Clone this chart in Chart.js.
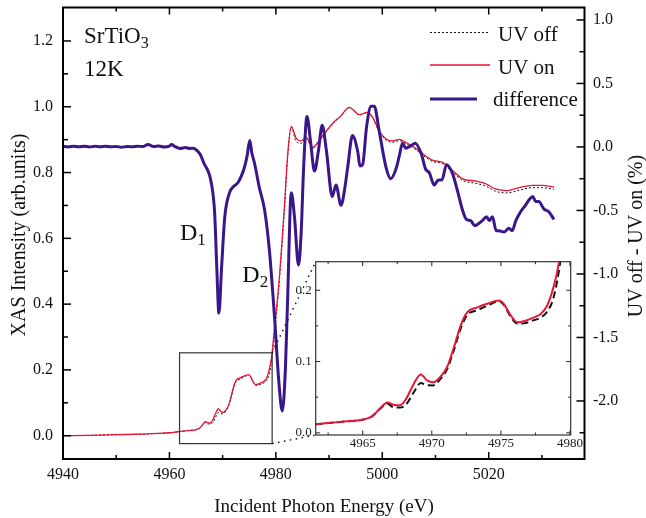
<!DOCTYPE html>
<html><head><meta charset="utf-8">
<script src="https://cdn.jsdelivr.net/npm/chart.js@4.4.1/dist/chart.umd.min.js"></script>
<style>
html,body{margin:0;padding:0;background:#fff;}
#wrap{position:relative;width:646px;height:518px;overflow:hidden;}
#main{position:absolute;left:0;top:0;}
#inset{position:absolute;left:270px;top:250px;}
</style></head><body>
<div id="wrap"><canvas id="main" width="646" height="518"></canvas><canvas id="inset" width="320" height="204"></canvas></div>
<script>
// ---------------- DATA ----------------
const xasEnergy = [4940,4945,4950,4955,4958,4960,4961.6,4963.4,4965.05,4965.7,4966.15,4966.8,4967.2,4967.7,4968.15,4968.7,4969.2,4969.65,4970.1,4970.6,4971.1,4971.6,4972.1,4972.55,4973.3,4974.0,4974.85,4975.2,4975.7,4976.2,4976.65,4977.4,4977.9,4978.35,4978.8,4979.2,4979.75,4980.5,4981.2,4981.7,4982.2,4982.9,4983.8,4984.75,4985.7,4986.9,4987.9,4988.8,4990.7,4992.25,4993.8,4995.7,4997.2,4998.2,4999.4,5000.7,5001.9,5003.2,5004.4,5006,5007.6,5009.4,5011.3,5013.2,5015.1,5017.6,5019.4,5021.3,5023.5,5025.7,5028.2,5030.1,5032.25];
const uvOn = [0.000,0.001,0.003,0.005,0.007,0.009,0.012,0.0154,0.0187,0.0234,0.032,0.0425,0.0395,0.0387,0.048,0.069,0.082,0.0737,0.071,0.078,0.092,0.120,0.151,0.169,0.176,0.181,0.1856,0.181,0.165,0.155,0.1566,0.162,0.167,0.1786,0.204,0.239,0.33,0.45,0.60,0.72,0.85,0.94,0.905,0.896,0.907,0.876,0.892,0.912,0.950,0.973,0.998,0.976,0.983,0.968,0.927,0.902,0.896,0.901,0.892,0.877,0.857,0.838,0.831,0.806,0.781,0.774,0.766,0.750,0.745,0.754,0.761,0.761,0.756];
const uvOff = [0.000,0.001,0.003,0.005,0.007,0.009,0.012,0.0154,0.0187,0.0234,0.032,0.041,0.036,0.0355,0.040,0.057,0.070,0.0667,0.0665,0.075,0.089,0.116,0.147,0.165,0.172,0.178,0.1845,0.180,0.163,0.153,0.1535,0.158,0.162,0.170,0.189,0.2275,0.31,0.44,0.59,0.71,0.845,0.938,0.895,0.889,0.903,0.874,0.890,0.910,0.948,0.972,0.997,0.975,0.982,0.966,0.925,0.899,0.892,0.897,0.888,0.873,0.853,0.834,0.827,0.801,0.776,0.767,0.759,0.743,0.738,0.746,0.754,0.754,0.749];
const diffEnergy = [4940,4941,4942,4943,4944,4945,4946,4947,4948,4949,4950,4951,4952,4953,4954,4955,4956,4957,4958,4959,4960,4960.4,4961,4962,4963,4963.8,4964.5,4965.1,4965.8,4966.4,4967.9,4968.5,4968.9,4969.3,4969.8,4970.4,4971.3,4972.1,4972.9,4973.5,4974.1,4974.6,4975.1,4975.5,4976.0,4976.9,4977.9,4978.8,4979.75,4980.6,4981.2,4981.8,4982.2,4982.9,4983.5,4984.25,4984.75,4985.2,4985.85,4986.5,4987.25,4988.0,4988.7,4989.5,4990.6,4991.3,4992.25,4992.9,4993.5,4994.4,4995.4,4995.8,4996.3,4997.05,4997.9,4998.5,4999.4,5000.7,5001.6,5002.6,5003.2,5003.8,5004.4,5005.4,5006.2,5007.3,5008.2,5008.8,5009.75,5010.55,5011.2,5012.06,5013.2,5014.1,5015.1,5015.8,5016.6,5017.4,5018.2,5018.8,5019.6,5020.1,5020.7,5021.4,5021.9,5022.9,5023.8,5024.4,5025.1,5026.0,5026.9,5027.7,5028.3,5028.8,5029.4,5030.4,5031.3,5032.25];
const diffValue = [0.005,0.0,0.006,0.002,0.006,0.0,0.005,0.002,0.006,0.001,0.004,-0.003,0.004,0.001,0.006,0.003,0.02,0.004,0.008,0.0,0.006,0.02,0.004,-0.012,-0.004,-0.012,-0.01,-0.025,-0.06,-0.12,-0.29,-0.52,-0.95,-1.31,-0.95,-0.55,-0.36,-0.31,-0.28,-0.23,-0.16,-0.07,0.05,-0.05,-0.13,-0.32,-0.50,-0.82,-1.34,-1.87,-2.08,-1.74,-1.21,-0.36,-0.55,-0.93,-0.68,-0.18,0.24,0.05,-0.19,-0.03,0.17,-0.03,-0.39,-0.30,-0.46,-0.34,-0.16,0.09,-0.04,-0.15,-0.14,0.16,0.32,0.32,0.13,-0.16,-0.25,-0.17,-0.07,0.03,-0.01,0.01,0.03,-0.05,-0.18,-0.20,-0.30,-0.26,-0.26,-0.14,-0.21,-0.34,-0.50,-0.57,-0.58,-0.62,-0.60,-0.58,-0.55,-0.58,-0.55,-0.66,-0.66,-0.67,-0.64,-0.66,-0.58,-0.51,-0.46,-0.41,-0.39,-0.43,-0.43,-0.49,-0.51,-0.57];
const xTicks = [4940,4960,4980,5000,5020];
const leftTicks = [0.0,0.2,0.4,0.6,0.8,1.0,1.2];
const rightTicks = [1.0,0.5,0.0,-0.5,-1.0,-1.5,-2.0];
const insetXTicks = [4965,4970,4975,4980];
const insetYTicks = [0.0,0.1,0.2];
const zoomX = [4961.9,4979.3];
const zoomY = [-0.024,0.252];
const seriesNames = ['UV off','UV on','difference'];

// ---------------- STYLE ----------------
const FONT = "'Liberation Serif','Times New Roman',serif";
const RED = 'rgb(230,22,55)';
const PURPLE = 'rgb(58,22,138)';
const INSET_LEFT = 270, INSET_TOP = 250;
Chart.defaults.font.family = FONT;

const pts = (xs, ys) => xs.map((e,i)=>({x:e,y:ys[i]}));

function seg(ctx,x1,y1,x2,y2){ctx.beginPath();ctx.moveTo(x1,y1);ctx.lineTo(x2,y2);ctx.stroke();}
function subText(ctx, main, s, x, yb, size, subSize, drop){
  ctx.font = size+'px '+FONT; ctx.fillText(main,x,yb);
  const w = ctx.measureText(main).width;
  ctx.font = subSize+'px '+FONT; ctx.fillText(s,x+w,yb+drop);
}

// ---------------- INSET ----------------
const insetDecor = {
  id:'insetDecor',
  beforeDraw(chart){
    const {ctx, chartArea:a} = chart;
    ctx.save(); ctx.fillStyle='#fff'; ctx.fillRect(a.left,a.top,a.right-a.left,a.bottom-a.top); ctx.restore();
  },
  afterDatasetsDraw(chart){
    const {ctx, chartArea:a, scales:{x,y}} = chart;
    ctx.save();
    ctx.strokeStyle='#222'; ctx.lineWidth=1;
    for(let i=0;i<=8;i++){
      const v=4960+i*2.5; if(v<4961.7||v>4980) continue;
      const px=x.getPixelForValue(v); const L=(i%2===0)?4.5:2.5;
      seg(ctx,px,a.bottom,px,a.bottom-L); seg(ctx,px,a.top,px,a.top+L);
    }
    for(let i=0;i<=4;i++){
      const v=i*0.05; const py=y.getPixelForValue(v); const L=(i%2===0)?4.5:2.5;
      seg(ctx,a.left,py,a.left+L,py); seg(ctx,a.right,py,a.right-L,py);
    }
    ctx.strokeStyle='#333'; ctx.lineWidth=1.2;
    ctx.strokeRect(a.left,a.top,a.right-a.left,a.bottom-a.top);
    ctx.restore();
  }
};

const insetChart = new Chart(document.getElementById('inset'), {
  type:'line',
  data:{datasets:[
    {data:pts(xasEnergy,uvOn), borderColor:RED, borderWidth:2, pointRadius:0, cubicInterpolationMode:'monotone', order:0},
    {data:pts(xasEnergy,uvOff), borderColor:'#111', borderWidth:2, borderDash:[7,4], pointRadius:0, cubicInterpolationMode:'monotone', order:1}
  ]},
  options:{
    responsive:false, animation:false, devicePixelRatio:1,
    layout:{padding:{top:11.7,right:19.3,left:0,bottom:0}},
    plugins:{legend:{display:false}, tooltip:{enabled:false}},
    scales:{
      x:{type:'linear', min:4961.6, max:4980.05,
        afterBuildTicks:s=>{s.ticks=insetXTicks.map(v=>({value:v}));},
        afterFit:s=>{s.height=19; s.paddingLeft=0; s.paddingRight=0;},
        grid:{display:false, drawTicks:false}, border:{display:false},
        ticks:{font:{family:FONT,size:13}, color:'#222', padding:1, maxRotation:0, autoSkip:false, callback:v=>String(v)}},
      y:{type:'linear', min:-0.003, max:0.24,
        afterBuildTicks:s=>{s.ticks=insetYTicks.map(v=>({value:v}));},
        afterFit:s=>{s.width=45.7; s.paddingTop=0; s.paddingBottom=0;},
        grid:{display:false, drawTicks:false}, border:{display:false},
        ticks:{font:{family:FONT,size:13}, color:'#222', padding:4, autoSkip:false, callback:v=>v.toFixed(1)}}
    }
  },
  plugins:[insetDecor]
});

// ---------------- MAIN ----------------
const mainDecor = {
  id:'mainDecor',
  afterDatasetsDraw(chart){
    const {ctx, chartArea:a, scales:{x,y,y2}} = chart;
    ctx.save();
    ctx.strokeStyle='#000'; ctx.lineWidth=1.5; ctx.setLineDash([]);
    for(let v=4940; v<=5038; v+=10){
      const px=x.getPixelForValue(v); const L=(v%20===0)?7:4;
      seg(ctx,px,a.bottom,px,a.bottom-L); seg(ctx,px,a.top,px,a.top+L);
    }
    for(let i=0;i<=12;i++){
      const py=y.getPixelForValue(i/10); const L=(i%2===0)?8:5;
      seg(ctx,a.left,py,a.left+L,py);
    }
    for(let i=-9;i<=4;i++){
      const py=y2.getPixelForValue(i/4); if(py<a.top+1||py>a.bottom-1) continue;
      const L=(i%2===0)?8:5;
      seg(ctx,a.right,py,a.right-L,py);
    }
    ctx.lineWidth=2;
    ctx.strokeRect(a.left,a.top,a.right-a.left,a.bottom-a.top);

    // zoom box
    const rx1=x.getPixelForValue(zoomX[0]), rx2=x.getPixelForValue(zoomX[1]);
    const ryT=y.getPixelForValue(zoomY[1]), ryB=y.getPixelForValue(zoomY[0]);
    ctx.strokeStyle='#333'; ctx.lineWidth=1.2;
    ctx.strokeRect(rx1,ryT,rx2-rx1,ryB-ryT);
    // connectors
    const ia=insetChart.chartArea;
    ctx.strokeStyle='#111'; ctx.lineWidth=1.5; ctx.setLineDash([1.5,4.5]);
    seg(ctx,rx2,ryT,INSET_LEFT+ia.left,INSET_TOP+ia.top);
    seg(ctx,rx2,ryB,INSET_LEFT+ia.left,INSET_TOP+ia.bottom);
    ctx.setLineDash([]);

    // legend
    ctx.strokeStyle='#111'; ctx.lineWidth=1; ctx.setLineDash([2,2]);
    seg(ctx,430,32.5,490,32.5);
    ctx.setLineDash([]);
    ctx.strokeStyle=RED; ctx.lineWidth=1.5; seg(ctx,430,65,490,65);
    ctx.strokeStyle=PURPLE; ctx.lineWidth=3; seg(ctx,430,99,477,99);
    ctx.fillStyle='#111'; ctx.textAlign='left'; ctx.textBaseline='alphabetic';
    ctx.font='21px '+FONT;
    ctx.fillText(seriesNames[0],498,40.7);
    ctx.fillText(seriesNames[1],498,74);
    ctx.fillText(seriesNames[2],493,106);

    // annotations
    subText(ctx,'SrTiO','3',84,43.3,23,16,5);
    ctx.font='23px '+FONT; ctx.fillText('12K',84,76);
    subText(ctx,'D','1',180,240,24,17,5);
    subText(ctx,'D','2',242.3,281.7,24,17,5);
    subText(ctx,'C','1',378.3,388.3,23,16,6);
    subText(ctx,'C','2',411.7,358.3,23,16,6);
    subText(ctx,'C','3',465.7,293.3,23,16,6);

    // axis titles
    ctx.font='19px '+FONT; ctx.textAlign='center';
    ctx.fillText('Incident Photon Energy (eV)',324,511.7);
    ctx.font='20px '+FONT;
    ctx.save(); ctx.translate(25,235); ctx.rotate(-Math.PI/2); ctx.fillText('XAS Intensity (arb.units)',0,0); ctx.restore();
    ctx.save(); ctx.translate(642,236); ctx.rotate(-Math.PI/2); ctx.fillText('UV off - UV on (%)',0,0); ctx.restore();
    ctx.restore();
  }
};

const mainChart = new Chart(document.getElementById('main'), {
  type:'line',
  data:{datasets:[
    {label:seriesNames[2], data:pts(diffEnergy,diffValue), yAxisID:'y2', borderColor:PURPLE, borderWidth:3, pointRadius:0, cubicInterpolationMode:'monotone', order:0},
    {label:seriesNames[1], data:pts(xasEnergy,uvOn), yAxisID:'y', borderColor:RED, borderWidth:1.3, pointRadius:0, cubicInterpolationMode:'monotone', order:1},
    {label:seriesNames[0], data:pts(xasEnergy,uvOff), yAxisID:'y', borderColor:'#111', borderWidth:1, borderDash:[2,2], pointRadius:0, cubicInterpolationMode:'monotone', order:2}
  ]},
  options:{
    responsive:false, animation:false, devicePixelRatio:1,
    layout:{padding:{top:7.5,right:0,left:0,bottom:0}},
    plugins:{legend:{display:false}, tooltip:{enabled:false}},
    scales:{
      x:{type:'linear', position:'bottom', min:4940, max:5038,
        afterBuildTicks:s=>{s.ticks=xTicks.map(v=>({value:v}));},
        afterFit:s=>{s.height=59; s.paddingLeft=0; s.paddingRight=0;},
        grid:{display:false, drawTicks:false}, border:{display:false},
        ticks:{font:{family:FONT,size:16}, color:'#111', padding:6, maxRotation:0, autoSkip:false, callback:v=>String(v)}},
      y:{type:'linear', position:'left', min:-0.0708, max:1.3017,
        afterBuildTicks:s=>{s.ticks=leftTicks.map(v=>({value:v}));},
        afterFit:s=>{s.width=63; s.paddingTop=0; s.paddingBottom=0;},
        grid:{display:false, drawTicks:false}, border:{display:false},
        ticks:{font:{family:FONT,size:16}, color:'#111', padding:10, autoSkip:false, callback:v=>v.toFixed(1)}},
      y2:{type:'linear', position:'right', min:-2.457, max:1.098,
        afterBuildTicks:s=>{s.ticks=rightTicks.map(v=>({value:v}));},
        afterFit:s=>{s.width=61.5; s.paddingTop=0; s.paddingBottom=0;},
        grid:{display:false, drawTicks:false}, border:{display:false},
        ticks:{font:{family:FONT,size:16}, color:'#111', padding:8.5, autoSkip:false, callback:v=>v.toFixed(1)}}
    }
  },
  plugins:[mainDecor]
});
</script>
</body></html>
